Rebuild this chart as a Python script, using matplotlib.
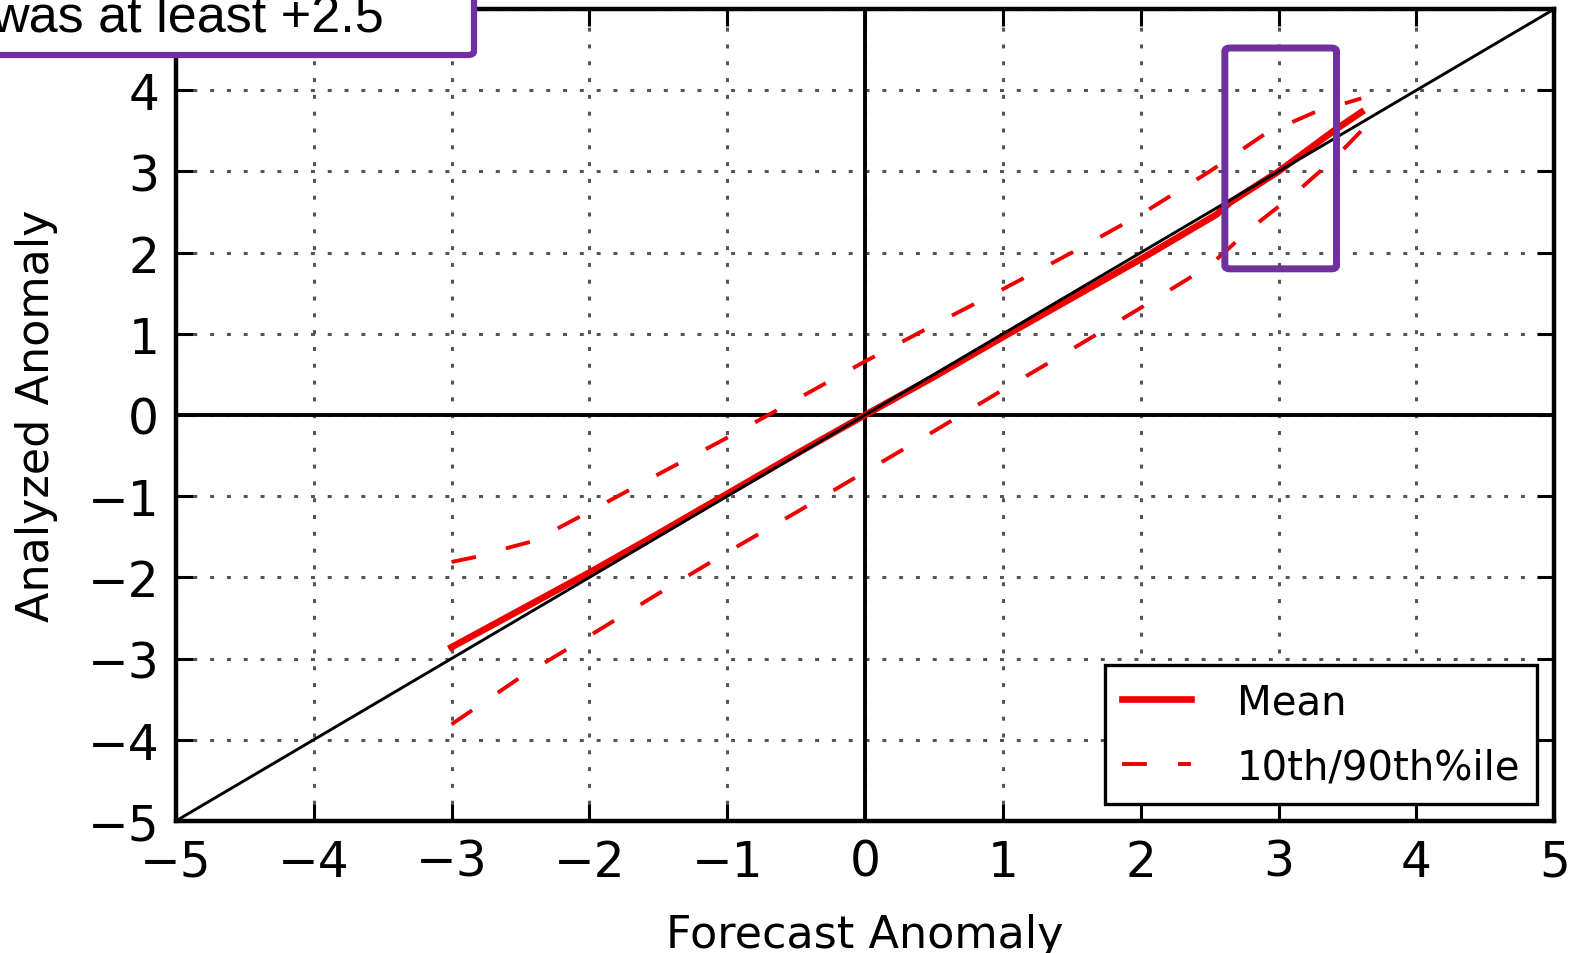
import matplotlib
matplotlib.use("Agg")
import matplotlib.pyplot as plt
from matplotlib.patches import FancyBboxPatch

# mean of analyzed anomaly, binned by forecast anomaly
x_mean = [-3.0, -2.5, -2.0, -1.5, -1.0, -0.5, 0.0, 0.5, 1.0, 1.5, 2.0, 2.4, 2.55, 2.65, 3.0, 3.4, 3.6]
y_mean = [-2.86, -2.40, -1.94, -1.46, -0.97, -0.48, 0.0, 0.47, 0.96, 1.44, 1.92, 2.32, 2.47, 2.62, 3.0, 3.5, 3.73]

# 90th percentile
x_hi = [-3.0, -2.8, -2.6, -2.4, -2.2, -2.0, -1.5, -1.0, -0.5, 0.0, 0.5, 1.0, 1.5, 2.0, 2.5, 2.9, 3.25, 3.6]
y_hi = [-1.81, -1.74, -1.64, -1.55, -1.37, -1.19, -0.73, -0.28, 0.19, 0.66, 1.11, 1.55, 2.0, 2.47, 3.0, 3.46, 3.72, 3.9]

# 10th percentile
x_lo = [-3.0, -2.5, -2.0, -1.5, -1.0, -0.5, 0.0, 0.5, 1.0, 1.5, 2.0, 2.5, 2.8, 3.1, 3.4, 3.6]
y_lo = [-3.81, -3.23, -2.72, -2.20, -1.69, -1.20, -0.70, -0.20, 0.31, 0.81, 1.32, 1.84, 2.30, 2.70, 3.15, 3.50]

ticks = [-5, -4, -3, -2, -1, 0, 1, 2, 3, 4, 5]
highlight_x = (2.61, 3.42)
highlight_y = (1.80, 4.52)
note_text = "was at least +2.5"
purple = '#7030A0'

plt.rcParams['font.family'] = ['DejaVu Sans']
plt.rcParams['axes.unicode_minus'] = True

fig = plt.figure(figsize=(15.7, 9.54), dpi=100)
ax = fig.add_axes([0.112, 0.1384, 0.878, 0.8511])

ax.set_xlim(-5, 5)
ax.set_ylim(-5, 5)
ax.set_xticks(ticks)
ax.set_yticks(ticks)
ax.grid(True, color='#555555', linestyle=(0, (1.3, 4.2)), linewidth=2.2)
ax.tick_params(direction='in', length=12, width=2.2, labelsize=35, pad=12,
               top=True, right=True)
for sp in ax.spines.values():
    sp.set_linewidth(3.2)

ax.axhline(0, color='black', lw=2.8, zorder=2)
ax.axvline(0, color='black', lw=2.8, zorder=2)

ax.plot(x_mean, y_mean, color='#ee0000', lw=4.8, label='Mean', zorder=3)
ax.plot(x_hi, y_hi, color='#ee0000', lw=2.8, dashes=(6.4, 8), label='10th/90th%ile', zorder=3)
ax.plot(x_lo, y_lo, color='#ee0000', lw=2.8, dashes=(6.4, 8), zorder=3)
ax.plot([-5, 5], [-5, 5], color='black', lw=2.1, zorder=4)

ax.set_xlabel('Forecast Anomaly', fontsize=32, labelpad=20)
ax.set_ylabel('Analyzed Anomaly', fontsize=32, labelpad=21)

leg = ax.legend(loc='lower right', fontsize=29, fancybox=False, framealpha=1,
                edgecolor='black', handlelength=1.7, borderaxespad=0.42,
                labelspacing=0.62, handletextpad=1.15, borderpad=0.42)
leg.get_frame().set_linewidth(2.4)

# highlight box in data coordinates
ax.add_patch(FancyBboxPatch((highlight_x[0], highlight_y[0]),
                            highlight_x[1] - highlight_x[0], highlight_y[1] - highlight_y[0],
                            boxstyle='round,pad=0,rounding_size=0.04',
                            fill=False, edgecolor=purple, lw=5, zorder=5))

# callout box clipped at the top-left
W, H = 1570, 954
fig.patches.append(FancyBboxPatch((-20 / W, (H - 56) / H), 494 / W, 80 / H,
                                  boxstyle='round,pad=0,rounding_size=0.004',
                                  transform=fig.transFigure, facecolor='white',
                                  edgecolor=purple, lw=4.5, zorder=10))
fig.text(384 / W, (H - 31) / H, note_text, ha='right', va='baseline',
         fontsize=37.5, family=['Liberation Sans'], color='black', zorder=11)

fig.savefig('out.png', dpi=100)
